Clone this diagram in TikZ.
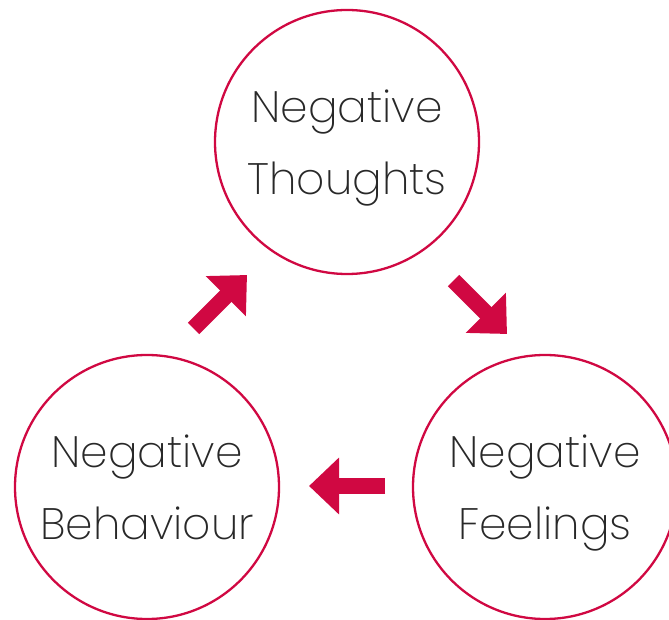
\documentclass[tikz,border=0pt]{standalone}
\usepackage{fontspec}
\setmainfont{Poppins}[UprightFont=* ExtraLight]
\usetikzlibrary{arrows.meta}

\definecolor{cyclered}{RGB}{208,8,66}
\definecolor{cycletext}{RGB}{40,40,40}

\tikzset{
	cyclenode/.style={circle, draw=cyclered, line width=2.3pt, inner sep=0pt,
		minimum size=264pt, align=center, text=cycletext, text depth=0pt,
		font=\fontsize{44}{72}\selectfont},
	cyclearrow/.style={draw=cyclered, line width=16pt,
		-{Triangle[length=30pt, width=55pt, fill=cyclered]}}
}

\begin{document}
\begin{tikzpicture}[x=1pt, y=1pt]
		\useasboundingbox (0, 0) rectangle (669, 619);

		% Draw the three circles
		\node[cyclenode] (thoughts) at (347, 477) {Negative\\Thoughts};
		\node[cyclenode] (feelings) at (545, 132) {Negative\\Feelings};
		\node[cyclenode] (behaviour) at (147, 132) {Negative\\Behaviour};

		% Arrow ends
		\coordinate (bt tail) at (193.5, 290.5);
		\coordinate (bt tip) at (247, 344);
		\coordinate (tf tail) at (453.5, 338.5);
		\coordinate (tf tip) at (507, 285);
		\coordinate (fb tail) at (385, 133);
		\coordinate (fb tip) at (309, 133);

		% Draw the arrows
		\draw[cyclearrow] (bt tail) -- (bt tip);
		\draw[cyclearrow] (tf tail) -- (tf tip);
		\draw[cyclearrow] (fb tail) -- (fb tip);
\end{tikzpicture}
\end{document}
